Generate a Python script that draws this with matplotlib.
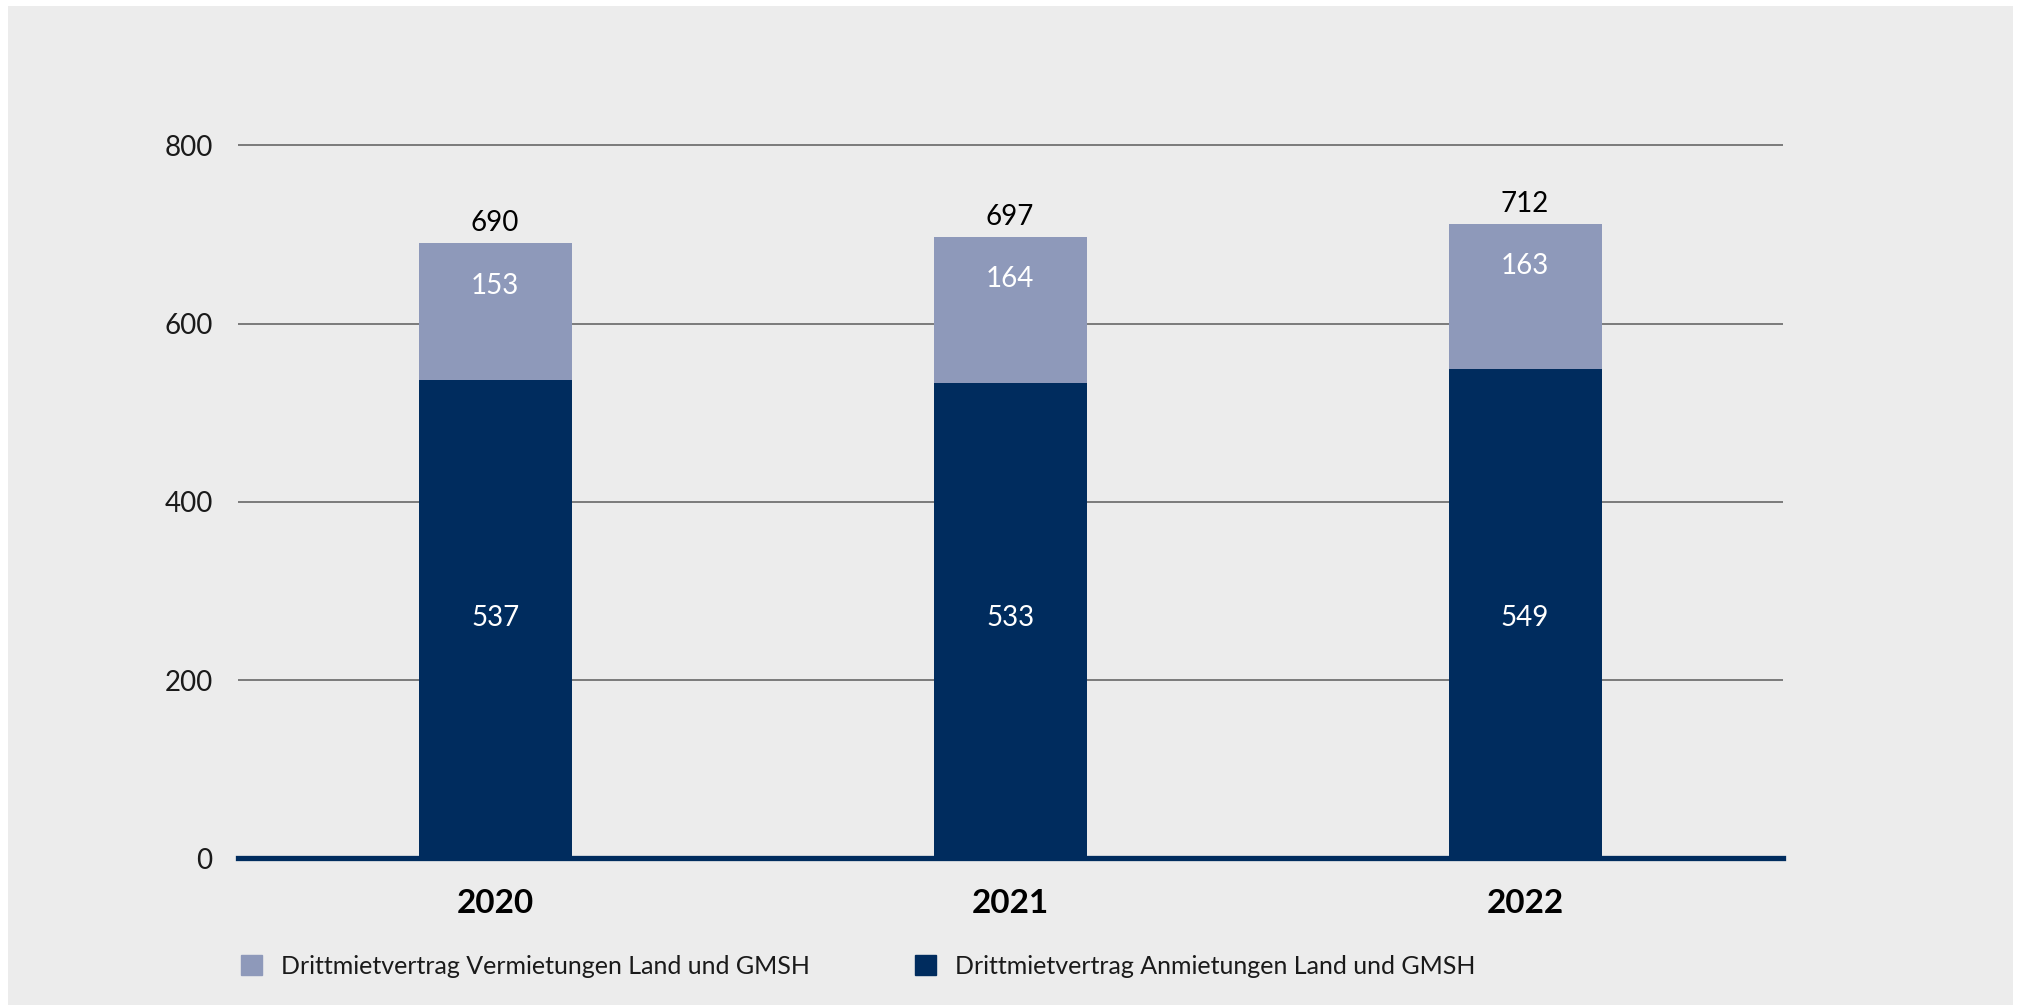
import matplotlib.pyplot as plt
from matplotlib.patches import Patch

years = ["2020", "2021", "2022"]
anmietungen = [537, 533, 549]
vermietungen = [153, 164, 163]
totals = [690, 697, 712]
yticks = [0, 200, 400, 600, 800]

label_anm = "Drittmietvertrag Anmietungen Land und GMSH"
label_ver = "Drittmietvertrag Vermietungen Land und GMSH"

dark = "#002C5E"
light = "#8E99BA"
bg = "#ECECEC"

plt.rcParams["font.family"] = ["Lato", "DejaVu Sans"]

fig = plt.figure(figsize=(20.19, 10.05), dpi=100)
fig.patch.set_facecolor("white")
# grey panel behind the chart
fig.patches.append(plt.Rectangle((8 / 2019, 0), (2013 - 8) / 2019, 1 - 6 / 1005,
                                 transform=fig.transFigure, facecolor=bg,
                                 edgecolor="none", zorder=-10))

ax = fig.add_axes([0.1177, 0.1458, 0.7652, 0.7274])
ax.set_facecolor("none")

x = range(len(years))
w = 0.297
ax.bar(x, anmietungen, width=w, color=dark, zorder=3)
ax.bar(x, vermietungen, width=w, bottom=anmietungen, color=light, zorder=3)

# lower labels sit on one common line
inner_y = sum(anmietungen) / len(anmietungen) / 2
for i in x:
    ax.text(i, inner_y, str(anmietungen[i]), ha="center", va="center",
            color="white", fontsize=20)
    ax.annotate(str(vermietungen[i]), (i, totals[i]), xytext=(0, -30.5),
                textcoords="offset points", ha="center", va="center",
                color="white", fontsize=20)
    ax.annotate(str(totals[i]), (i, totals[i]), xytext=(0, 14.5),
                textcoords="offset points", ha="center", va="center",
                color="black", fontsize=20)

ax.set_xlim(-0.5, 2.5)
ax.set_ylim(0, 820)
ax.set_yticks(yticks)
ax.set_yticklabels([str(v) for v in yticks], fontsize=20, color="#1A1A1A")
ax.set_xticks(list(x))
ax.set_xticklabels(years, fontsize=24, fontweight="bold")
ax.tick_params(axis="y", length=0, pad=18)
ax.tick_params(axis="x", length=0, pad=22)
for s in ax.spines.values():
    s.set_visible(False)
ax.yaxis.grid(True, color="#5C5C5C", linewidth=1.1, zorder=0)
ax.set_axisbelow(True)
ax.axhline(0, color=dark, linewidth=3.8, zorder=4, clip_on=False)

for color, label, x0 in [(light, label_ver, 241), (dark, label_anm, 915)]:
    fig.legend(handles=[Patch(color=color, label=label)], loc="center left",
               bbox_to_anchor=(x0 / 2019, 1 - 966 / 1005), frameon=False,
               borderpad=0, borderaxespad=0, handlelength=0.82, handleheight=0.87,
               handletextpad=0.78, prop={"size": 18}, labelcolor="#1A1A1A")

fig.savefig("out.png", dpi=100)
